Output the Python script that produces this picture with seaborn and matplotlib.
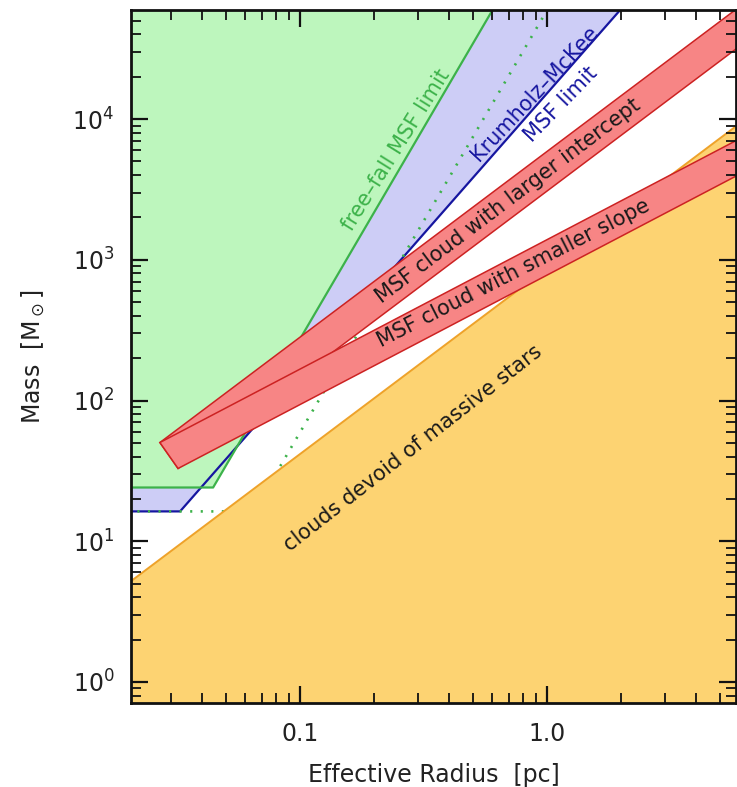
import numpy as np
import matplotlib
matplotlib.use("Agg")
import matplotlib.pyplot as plt
from matplotlib.ticker import FixedLocator, FixedFormatter, LogLocator, NullFormatter
import seaborn as sns

sns.set_theme(style="ticks")
plt.rcParams["font.family"] = ["DejaVu Sans"]
plt.rcParams["mathtext.fontset"] = "dejavusans"

# Limits for massive star formation (MSF): a constant-mass floor below the
# knee radius, rising as a power law above it.
limit_names = ["free-fall MSF limit", "Krumholz-McKee MSF limit", "free-fall (alt.)"]
limit_floor_msun = [24.1, 16.3, 16.3]
limit_knee_pc = [0.0445, 0.0327, 0.065]
limit_index = [3.0, 2.0, 3.0]

# Mass-size threshold: clouds below m = coeff * r**index lack massive stars
threshold_coeff = 870.0
threshold_index = 1.32

# Example MSF clouds: left-end corners of each band and its power-law index
band_names = ["MSF cloud with larger intercept", "MSF cloud with smaller slope"]
band_upper_start = [(0.0271, 50.3), (0.0271, 50.3)]
band_lower_start = [(0.0321, 32.9), (0.0321, 32.9)]
band_index = [1.32, 0.92]

# Axis ranges and ticks
radius_range = [0.0207, 5.82]
mass_range = [0.709, 5.96e4]
xtick_values = [0.1, 1.0]
xtick_labels = ["0.1", "1.0"]
ytick_values = [1, 10, 100, 1000, 10000]
ytick_labels = [r"$10^{0}$", r"$10^{1}$", r"$10^{2}$", r"$10^{3}$", r"$10^{4}$"]

GREEN_FILL, GREEN_LINE = "#bdf6bd", "#3cb24a"
LAV_FILL, BLUE_LINE = "#cdcdf6", "#1616a0"
RED_FILL, RED_LINE = "#f78585", "#cc2222"
ORANGE_FILL, ORANGE_LINE = "#fdd372", "#eea22a"

fig = plt.figure(figsize=(7.37, 7.87), dpi=100)
ax = fig.add_axes([131 / 737, 84 / 787, 605 / 737, 693 / 787])
ax.set_xscale("log")
ax.set_yscale("log")

r = np.unique(np.concatenate([np.geomspace(0.01, 10, 800), limit_knee_pc]))


def limit_curve(floor, knee, index):
    return floor * np.maximum(1.0, r / knee) ** index


ff = limit_curve(limit_floor_msun[0], limit_knee_pc[0], limit_index[0])
km = limit_curve(limit_floor_msun[1], limit_knee_pc[1], limit_index[1])
ff_alt = limit_curve(limit_floor_msun[2], limit_knee_pc[2], limit_index[2])
thr = threshold_coeff * r ** threshold_index

# Regions above the two MSF limits
ax.fill_between(r, km, 1e7, color=LAV_FILL, lw=0, zorder=1)
ax.fill_between(r, ff, 1e7, color=GREEN_FILL, lw=0, zorder=2)
sns.lineplot(x=r, y=km, ax=ax, color=BLUE_LINE, lw=1.6, sort=False,
             estimator=None, zorder=3)
sns.lineplot(x=r, y=ff, ax=ax, color=GREEN_LINE, lw=1.6, sort=False,
             estimator=None, zorder=3)
sns.lineplot(x=r, y=ff_alt, ax=ax, color=GREEN_LINE, lw=1.9, sort=False,
             estimator=None, zorder=4, dashes=False, linestyle=(0, (0.8, 3.2)))

# Clouds devoid of massive stars
ax.fill_between(r, 1e-3, thr, color=ORANGE_FILL, lw=0, zorder=5)
sns.lineplot(x=r, y=thr, ax=ax, color=ORANGE_LINE, lw=1.4, sort=False,
             estimator=None, zorder=5)

# Mass-size bands of example MSF clouds
for i, idx in enumerate(band_index):
    (ru, mu), (rl, ml) = band_upper_start[i], band_lower_start[i]
    r_up = np.geomspace(ru, 10, 60)
    r_lo = np.geomspace(rl, 10, 60)
    xs = np.concatenate([r_up, r_lo[::-1]])
    ys = np.concatenate([mu * (r_up / ru) ** idx, (ml * (r_lo / rl) ** idx)[::-1]])
    ax.fill(xs, ys, facecolor=RED_FILL, edgecolor=RED_LINE, lw=1.1,
            zorder=6 + i, joinstyle="miter")

# Region labels
label_kw = dict(ha="center", va="center", rotation_mode="anchor", zorder=10,
                fontsize=15)
ax.text(0.245, 5990, "free–fall MSF limit", color=GREEN_LINE,
        rotation=58, **label_kw)
ax.text(0.894, 15200, "Krumholz–McKee", color=BLUE_LINE,
        rotation=47, **label_kw)
ax.text(1.14, 12700, "MSF limit", color=BLUE_LINE,
        rotation=46, **label_kw)
ax.text(0.695, 2640, band_names[0], color="#1a1a1a",
        rotation=37, **label_kw)
ax.text(0.735, 800, band_names[1], color="#1a1a1a",
        rotation=27, **label_kw)
ax.text(0.287, 45.6, "clouds devoid of massive stars", color="#1a1a1a",
        rotation=38, **label_kw)

ax.set_xlim(*radius_range)
ax.set_ylim(*mass_range)

ax.xaxis.set_major_locator(FixedLocator(xtick_values))
ax.xaxis.set_major_formatter(FixedFormatter(xtick_labels))
ax.xaxis.set_minor_locator(LogLocator(base=10, subs=np.arange(2, 10), numticks=50))
ax.xaxis.set_minor_formatter(NullFormatter())
ax.yaxis.set_major_locator(FixedLocator(ytick_values))
ax.yaxis.set_major_formatter(FixedFormatter(ytick_labels))
ax.yaxis.set_minor_locator(LogLocator(base=10, subs=np.arange(2, 10), numticks=50))
ax.yaxis.set_minor_formatter(NullFormatter())

ax.tick_params(which="both", direction="in", top=True, right=True,
               colors="#111111", labelcolor="#222222")
ax.tick_params(which="major", length=12, width=1.6, labelsize=17)
ax.tick_params(which="minor", length=7, width=1.3)
ax.tick_params(axis="x", which="major", pad=14)
ax.tick_params(axis="y", which="major", pad=12)
for s in ax.spines.values():
    s.set_linewidth(2)
    s.set_color("#111111")
    s.set_zorder(20)
# keep tick marks above the filled regions
ax.set_axisbelow(False)
ax.xaxis.set_zorder(20)
ax.yaxis.set_zorder(20)

ax.set_xlabel("Effective Radius  [pc]", fontsize=17, color="#222222", labelpad=12)
ax.set_ylabel(r"Mass  [M$_\odot$]", fontsize=17, color="#222222", labelpad=18)

fig.savefig("out.png", dpi=100)
